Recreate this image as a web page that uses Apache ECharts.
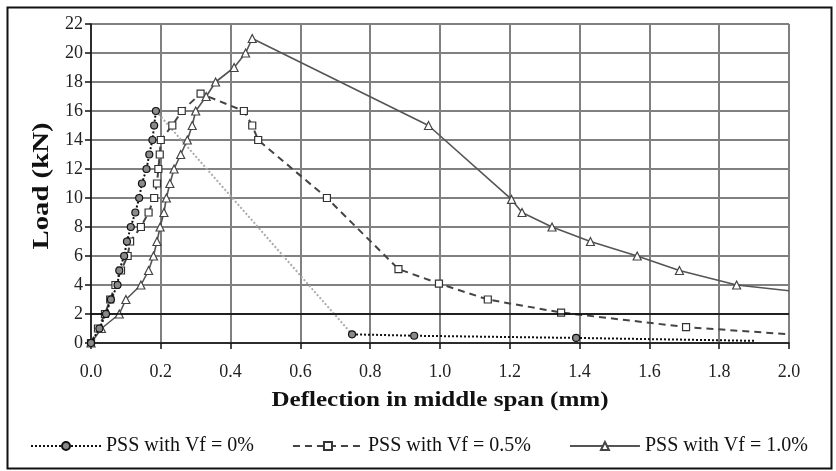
<!DOCTYPE html>
<html>
<head>
<meta charset="utf-8">
<script src="https://cdn.jsdelivr.net/npm/echarts@6/dist/echarts.min.js"></script>
<style>
  html, body { margin: 0; padding: 0; background: #fff; }
  #chart { width: 836px; height: 471px; }
</style>
</head>
<body>
<div id="chart"></div>
<script>
// Vf = 0% : rising part, falling part (grey), residual tail
let dx0 = [0, 0.024, 0.043, 0.057, 0.076, 0.081, 0.095, 0.103, 0.114, 0.127, 0.138, 0.146, 0.159, 0.167, 0.176, 0.181, 0.186];
let ld0 = [0, 1, 2, 3, 4, 5, 6, 7, 8, 9, 10, 11, 12, 13, 14, 15, 16];
let dx0drop = [0.186, 0.748];
let ld0drop = [16, 0.6];
let dx0tail = [0.748, 0.926, 1.39, 1.9];
let ld0tail = [0.6, 0.5, 0.35, 0.15];

// Vf = 0.5%
let dx1 = [0, 0.02, 0.04, 0.055, 0.07, 0.086, 0.105, 0.112, 0.143, 0.165, 0.181, 0.189, 0.193, 0.197, 0.2, 0.233, 0.26, 0.314, 0.438, 0.462, 0.479, 0.676, 0.881, 0.997, 1.137, 1.347, 1.705, 2.0];
let ld1 = [0, 1, 2, 3, 4, 5, 6, 7, 8, 9, 10, 11, 12, 13, 14, 15, 16, 17.2, 16, 15, 14, 10, 5.1, 4.1, 3, 2.1, 1.1, 0.6];

// Vf = 1.0%
let dx2 = [0, 0.03, 0.081, 0.1, 0.143, 0.165, 0.179, 0.189, 0.198, 0.209, 0.216, 0.226, 0.238, 0.257, 0.276, 0.29, 0.3, 0.33, 0.357, 0.41, 0.443, 0.462, 0.967, 1.205, 1.235, 1.321, 1.431, 1.565, 1.686, 1.85, 2.0];
let ld2 = [0, 1, 2, 3, 4, 5, 6, 7, 8, 9, 10, 11, 12, 13, 14, 15, 16, 17, 18, 19, 20, 21, 15, 9.9, 9, 8, 7, 6, 5, 4, 3.6];

let names = ["PSS with Vf = 0%", "PSS with Vf = 0.5%", "PSS with Vf = 1.0%"];
let xTitle = "Deflection in middle span (mm)";
let yTitle = "Load (kN)";

// pair x/y, last point without marker when asked
function pairs(xs, ys, noLastMark) {
    return xs.map((x, i) => {
        if (noLastMark && i === xs.length - 1) {
            return { value: [x, ys[i]], symbol: "none" };
        }
        return [x, ys[i]];
    });
}

let font = "Liberation Serif";
let myChart = echarts.init(document.getElementById("chart"));

let circleStyle = { color: "#8a8a8a", borderColor: "#111", borderWidth: 1.2 };

myChart.setOption({
    animation: false,
    backgroundColor: "#fff",
    textStyle: { fontFamily: font },
    graphic: [
        {
            type: "rect",
            left: 5, top: 5,
            shape: { width: 824, height: 461 },
            style: { fill: "none", stroke: "#111", lineWidth: 2 }
        },
        {
            // axis titles: the source type is set wider than Times
            type: "text",
            x: 440, y: 400,
            scaleX: 1.14,
            style: {
                text: xTitle, fill: "#111",
                font: "bold 22px 'Liberation Serif'",
                align: "center", verticalAlign: "middle"
            }
        },
        {
            type: "text",
            x: 42, y: 186,
            rotation: Math.PI / 2,
            scaleX: 1.25,
            style: {
                text: yTitle, fill: "#111",
                font: "bold 23px 'Liberation Serif'",
                align: "center", verticalAlign: "middle"
            }
        }
    ],
    grid: { left: 91, right: 47, top: 24, bottom: 128 },
    legend: {
        data: names,
        left: 25,
        top: 431,
        itemWidth: 70,
        itemHeight: 10,
        itemGap: 38,
        textStyle: { fontFamily: font, fontSize: 20, color: "#111" }
    },
    xAxis: {
        type: "value",
        min: 0, max: 2, interval: 0.2,
        axisLine: { lineStyle: { color: "#111", width: 1.5 } },
        axisTick: { length: 6, lineStyle: { color: "#111", width: 1.5 } },
        axisLabel: {
            margin: 20, fontSize: 18, color: "#222",
            formatter: v => v.toFixed(1)
        },
        splitLine: { show: true, lineStyle: { color: "#808080", width: 2 } }
    },
    yAxis: {
        type: "value",
        min: 0, max: 22, interval: 2,
        axisLine: { show: true, lineStyle: { color: "#111", width: 1.5 } },
        axisTick: { show: true, length: 6, lineStyle: { color: "#111", width: 1.5 } },
        axisLabel: { margin: 8, fontSize: 18, color: "#222" },
        splitLine: { show: true, lineStyle: { color: "#808080", width: 2 } }
    },
    series: [
        {
            name: names[0],
            type: "line",
            data: pairs(dx0, ld0, false),
            symbol: "circle",
            symbolSize: 7,
            itemStyle: circleStyle,
            lineStyle: { type: "dotted", color: "#111", width: 2 },
            z: 5
        },
        {
            name: "drop0",
            type: "line",
            data: pairs(dx0drop, ld0drop, false),
            symbol: "none",
            lineStyle: { type: "dotted", color: "#aaa", width: 2 },
            z: 3
        },
        {
            name: "tail0",
            type: "line",
            data: pairs(dx0tail, ld0tail, true),
            symbol: "circle",
            symbolSize: 7,
            itemStyle: circleStyle,
            lineStyle: { type: "dotted", color: "#111", width: 2 },
            z: 5
        },
        {
            name: names[1],
            type: "line",
            data: pairs(dx1, ld1, true),
            symbol: "rect",
            symbolSize: 7,
            itemStyle: { color: "#fff", borderColor: "#333", borderWidth: 1.2 },
            lineStyle: { type: [7, 5], color: "#444", width: 2 },
            z: 4
        },
        {
            name: names[2],
            type: "line",
            data: pairs(dx2, ld2, true),
            symbol: "triangle",
            symbolSize: 8,
            itemStyle: { color: "#fff", borderColor: "#444", borderWidth: 1.2 },
            lineStyle: { type: "solid", color: "#555", width: 1.6 },
            markLine: {
                silent: true,
                symbol: "none",
                label: { show: false },
                lineStyle: { type: "solid", color: "#000", width: 1.5 },
                data: [{ yAxis: 2 }]
            },
            z: 4
        }
    ]
});

window.addEventListener("resize", function () {
    myChart.resize();
});
</script>
</body>
</html>
